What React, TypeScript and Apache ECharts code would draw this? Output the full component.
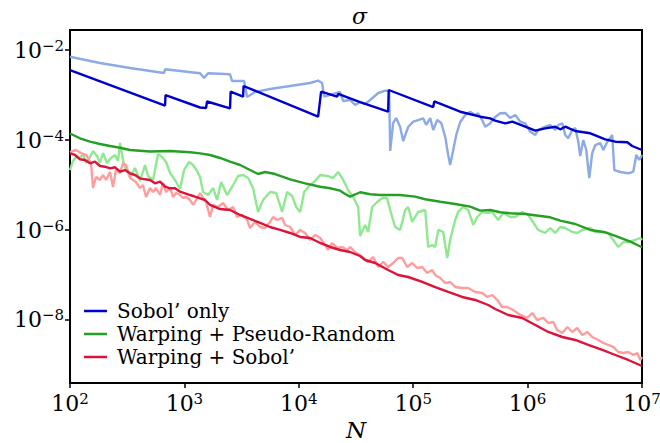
import React, { useEffect, useRef } from "react";
import * as echarts from "echarts";

// All values are [log10 N, log10 sigma].
const xTickExps = [2, 3, 4, 5, 6, 7];
const yTickExps = [-8, -6, -4, -2];

const seriesNames = ["Sobol’ only", "Warping + Pseudo-Random", "Warping + Sobol’"];

const sobolOnly = [
  [2.0, -2.446], [2.831, -3.237], [2.835, -3.003], [3.137, -3.281], [3.189, -3.292], [3.198, -3.147],
  [3.399, -3.299], [3.404, -2.929], [3.513, -3.04], [3.517, -2.802], [4.169, -3.482], [4.195, -2.929],
  [4.335, -3.04], [4.344, -2.98], [4.536, -3.159], [4.781, -3.375], [4.786, -2.891], [5.175, -3.27],
  [5.184, -3.147], [5.411, -3.375], [5.586, -3.486], [5.673, -3.522], [5.717, -3.575], [5.804, -3.633],
  [5.866, -3.597], [5.979, -3.709], [6.067, -3.798], [6.154, -3.745], [6.242, -3.709], [6.285, -3.767],
  [6.329, -3.709], [6.417, -3.805], [6.548, -3.856], [6.679, -3.99], [6.767, -4.043], [6.872, -4.056],
  [6.914, -4.139], [7.0, -4.228],
];

const sobolOnlyRaw = [
  [2.0, -2.149], [2.262, -2.29], [2.525, -2.401], [2.822, -2.512], [2.831, -2.43], [3.137, -2.519],
  [3.172, -2.624], [3.207, -2.519], [3.399, -2.541], [3.417, -2.691], [3.522, -2.691], [3.548, -3.047],
  [3.618, -2.936], [3.749, -2.869], [3.924, -2.802], [4.099, -2.735], [4.169, -2.68], [4.204, -2.735],
  [4.221, -3.04], [4.318, -2.965], [4.361, -2.936], [4.388, -3.136], [4.449, -3.114], [4.493, -3.225],
  [4.536, -3.159], [4.58, -3.203], [4.624, -3.114], [4.694, -2.958], [4.755, -2.907], [4.79, -2.913],
  [4.799, -4.25], [4.825, -3.626], [4.851, -3.515], [4.886, -3.716], [4.912, -4.027], [4.956, -3.716],
  [5.0, -3.597], [5.044, -3.56], [5.087, -3.522], [5.114, -3.671], [5.149, -3.515], [5.175, -3.782],
  [5.21, -3.56], [5.245, -3.626], [5.28, -3.938], [5.306, -4.339], [5.323, -4.562], [5.35, -4.228],
  [5.376, -3.894], [5.411, -3.604], [5.455, -3.448], [5.498, -3.375], [5.542, -3.448], [5.568, -3.41],
  [5.603, -3.56], [5.63, -3.709], [5.673, -3.633], [5.717, -3.493], [5.761, -3.41], [5.805, -3.404],
  [5.848, -3.515], [5.892, -3.448], [5.936, -3.597], [5.979, -3.633], [6.023, -3.82], [6.067, -3.894],
  [6.093, -3.782], [6.154, -3.709], [6.198, -3.671], [6.242, -3.782], [6.268, -3.671], [6.303, -3.633],
  [6.329, -3.894], [6.355, -3.967], [6.39, -3.782], [6.417, -3.738], [6.443, -4.043], [6.46, -4.362],
  [6.487, -4.005], [6.513, -4.228], [6.539, -4.852], [6.565, -4.295], [6.592, -4.117], [6.635, -4.072],
  [6.662, -4.228], [6.697, -4.043], [6.74, -3.894], [6.758, -4.674], [6.81, -4.718], [6.88, -4.747],
  [6.924, -4.711], [6.95, -4.339], [6.976, -4.451], [7.0, -4.339],
];

const warpPseudo = [
  [2.0, -3.86], [2.087, -3.967], [2.175, -4.043], [2.262, -4.094], [2.35, -4.139], [2.437, -4.177],
  [2.525, -4.228], [2.7, -4.261], [2.875, -4.25], [3.05, -4.279], [3.137, -4.302], [3.224, -4.339],
  [3.312, -4.406], [3.399, -4.489], [3.487, -4.562], [3.574, -4.674], [3.644, -4.763], [3.705, -4.718],
  [3.793, -4.763], [3.924, -4.881], [4.055, -4.97], [4.187, -5.046], [4.274, -5.081], [4.361, -5.135],
  [4.405, -5.208], [4.449, -5.268], [4.493, -5.219], [4.536, -5.17], [4.624, -5.215], [4.711, -5.231],
  [4.886, -5.231], [5.017, -5.268], [5.105, -5.326], [5.236, -5.38], [5.367, -5.431], [5.498, -5.491],
  [5.586, -5.58], [5.673, -5.565], [5.761, -5.616], [5.848, -5.638], [5.979, -5.654], [6.111, -5.698],
  [6.198, -5.727], [6.285, -5.803], [6.417, -5.877], [6.548, -6.01], [6.679, -6.062], [6.767, -6.144],
  [6.898, -6.271], [7.0, -6.396],
];

const warpPseudoRaw = [
  [2.0, -4.674], [2.026, -4.473], [2.061, -4.362], [2.087, -4.406], [2.114, -4.317], [2.14, -4.518],
  [2.175, -4.384], [2.201, -4.25], [2.236, -4.362], [2.262, -4.518], [2.289, -4.295], [2.324, -4.518],
  [2.35, -4.429], [2.394, -4.339], [2.42, -4.473], [2.437, -4.072], [2.472, -4.562], [2.525, -4.83],
  [2.568, -4.629], [2.612, -4.919], [2.656, -4.562], [2.682, -4.807], [2.726, -4.896], [2.77, -4.317],
  [2.805, -4.384], [2.84, -4.495], [2.875, -4.74], [2.918, -4.896], [2.962, -5.097], [2.997, -4.674],
  [3.041, -4.495], [3.076, -4.562], [3.111, -4.696], [3.137, -4.83], [3.163, -5.164], [3.207, -5.231],
  [3.251, -5.075], [3.286, -5.342], [3.321, -4.941], [3.373, -5.231], [3.426, -5.008], [3.469, -4.807],
  [3.513, -4.785], [3.557, -4.852], [3.6, -5.075], [3.644, -5.609], [3.688, -5.342], [3.749, -5.164],
  [3.802, -5.186], [3.854, -5.609], [3.898, -5.164], [3.942, -5.253], [3.977, -5.498], [4.012, -5.609],
  [4.047, -5.164], [4.09, -5.03], [4.134, -4.941], [4.187, -4.785], [4.248, -4.807], [4.3, -4.852],
  [4.344, -4.718], [4.388, -4.896], [4.431, -5.119], [4.475, -5.275], [4.519, -5.498], [4.536, -6.144],
  [4.58, -5.899], [4.606, -6.055], [4.641, -5.498], [4.685, -5.387], [4.729, -5.297], [4.772, -5.297],
  [4.799, -5.565], [4.842, -5.944], [4.886, -6.01], [4.93, -5.565], [4.956, -5.498], [4.991, -5.832],
  [5.044, -5.609], [5.105, -5.565], [5.131, -6.389], [5.166, -6.345], [5.192, -6.389], [5.219, -6.01],
  [5.262, -6.055], [5.297, -6.634], [5.323, -6.233], [5.367, -5.788], [5.393, -5.609], [5.437, -5.498],
  [5.481, -5.565], [5.525, -5.899], [5.56, -5.721], [5.603, -5.609], [5.647, -5.632], [5.691, -5.609],
  [5.743, -5.788], [5.787, -5.632], [5.848, -5.721], [5.892, -5.721], [5.953, -5.609], [6.006, -5.676],
  [6.093, -6.01], [6.154, -6.077], [6.198, -5.966], [6.242, -6.077], [6.285, -5.944], [6.329, -5.966],
  [6.39, -6.055], [6.434, -6.077], [6.478, -6.01], [6.548, -5.966], [6.592, -6.055], [6.653, -6.055],
  [6.705, -6.077], [6.749, -6.233], [6.793, -6.389], [6.837, -6.278], [6.88, -6.278], [6.941, -6.233],
  [6.985, -6.189], [7.0, -6.233],
];

const warpSobol = [
  [2.0, -4.302], [2.044, -4.339], [2.087, -4.435], [2.131, -4.451], [2.175, -4.524], [2.219, -4.489],
  [2.262, -4.584], [2.306, -4.6], [2.35, -4.636], [2.394, -4.613], [2.437, -4.711], [2.481, -4.674],
  [2.525, -4.747], [2.568, -4.785], [2.612, -4.859], [2.656, -4.881], [2.7, -4.896], [2.743, -4.97],
  [2.787, -4.934], [2.831, -5.046], [2.875, -5.081], [2.918, -5.081], [2.962, -5.157], [3.006, -5.193],
  [3.05, -5.231], [3.093, -5.268], [3.137, -5.304], [3.181, -5.342], [3.224, -5.453], [3.312, -5.543],
  [3.399, -5.565], [3.487, -5.676], [3.574, -5.765], [3.662, -5.854], [3.749, -5.944], [3.837, -6.01],
  [3.924, -6.077], [4.012, -6.166], [4.099, -6.189], [4.187, -6.3], [4.274, -6.389], [4.361, -6.456],
  [4.449, -6.501], [4.536, -6.59], [4.58, -6.679], [4.668, -6.746], [4.781, -6.902], [4.869, -7.013],
  [4.956, -7.058], [5.079, -7.169], [5.192, -7.281], [5.306, -7.392], [5.428, -7.503], [5.542, -7.57],
  [5.656, -7.682], [5.717, -7.771], [5.831, -7.905], [5.953, -7.971], [6.067, -8.127], [6.181, -8.283],
  [6.303, -8.395], [6.417, -8.461], [6.53, -8.573], [6.653, -8.684], [6.767, -8.796], [6.88, -8.907],
  [7.0, -9.041],
];

const warpSobolRaw = [
  [2.0, -4.273], [2.052, -4.228], [2.096, -4.295], [2.14, -4.339], [2.184, -4.518], [2.201, -5.075],
  [2.227, -4.83], [2.262, -4.896], [2.289, -4.785], [2.315, -4.896], [2.35, -4.718], [2.376, -5.052],
  [2.402, -4.674], [2.437, -4.74], [2.464, -4.518], [2.49, -4.562], [2.525, -4.852], [2.551, -4.896],
  [2.577, -4.941], [2.612, -5.075], [2.638, -5.008], [2.665, -5.275], [2.7, -5.075], [2.726, -5.164],
  [2.752, -5.075], [2.787, -5.231], [2.813, -4.963], [2.84, -5.164], [2.875, -5.075], [2.901, -5.275],
  [2.927, -5.186], [2.962, -5.231], [2.988, -5.297], [3.015, -5.275], [3.05, -5.342], [3.076, -5.453],
  [3.102, -5.342], [3.137, -5.186], [3.163, -5.297], [3.189, -5.387], [3.224, -5.721], [3.251, -5.453],
  [3.294, -5.498], [3.338, -5.409], [3.382, -5.565], [3.426, -5.498], [3.461, -5.721], [3.504, -5.676],
  [3.548, -5.788], [3.574, -5.966], [3.618, -5.832], [3.662, -5.944], [3.705, -5.966], [3.749, -5.832],
  [3.775, -5.721], [3.81, -5.788], [3.854, -5.743], [3.88, -5.899], [3.924, -5.944], [3.968, -6.122],
  [4.012, -6.01], [4.055, -6.077], [4.099, -6.233], [4.143, -6.122], [4.187, -6.189], [4.23, -6.345],
  [4.256, -6.456], [4.291, -6.3], [4.335, -6.411], [4.379, -6.389], [4.423, -6.456], [4.449, -6.389],
  [4.493, -6.501], [4.554, -6.612], [4.606, -6.723], [4.65, -6.612], [4.694, -6.835], [4.737, -6.723],
  [4.781, -6.835], [4.825, -6.746], [4.869, -6.634], [4.904, -6.634], [4.947, -6.835], [4.991, -6.746],
  [5.035, -6.857], [5.079, -6.835], [5.122, -6.968], [5.166, -6.902], [5.192, -7.013], [5.236, -7.08],
  [5.28, -7.191], [5.323, -7.169], [5.367, -7.28], [5.428, -7.303], [5.481, -7.303], [5.542, -7.392],
  [5.603, -7.414], [5.647, -7.503], [5.691, -7.459], [5.735, -7.57], [5.778, -7.726], [5.822, -7.726],
  [5.874, -7.793], [5.936, -7.904], [5.997, -7.971], [6.041, -7.86], [6.084, -8.016], [6.137, -7.971],
  [6.181, -8.083], [6.224, -8.06], [6.259, -8.239], [6.303, -8.305], [6.347, -8.172], [6.39, -8.283],
  [6.434, -8.194], [6.478, -8.35], [6.522, -8.283], [6.565, -8.395], [6.618, -8.461], [6.662, -8.528],
  [6.705, -8.573], [6.749, -8.617], [6.793, -8.729], [6.837, -8.751], [6.88, -8.729], [6.924, -8.796],
  [6.959, -8.751], [6.985, -8.907], [7.0, -8.84],
];

const FONT = "DejaVu Serif";

export default function App() {
  const ref = useRef<HTMLDivElement>(null);

  useEffect(() => {
    if (!ref.current) return;
    const chart = echarts.init(ref.current, null, { renderer: "svg" });

    const rich = {
      b: { fontFamily: FONT, fontSize: 22, lineHeight: 23, color: "#000", verticalAlign: "bottom" },
      s: { fontFamily: FONT, fontSize: 15, lineHeight: 15, color: "#000", verticalAlign: "top" },
    };
    const expLabel = (v: number) => {
      const e = Math.round(v);
      const txt = e < 0 ? "\u2212" + String(-e) : String(e);
      return "{b|10}{s|" + txt + "}";
    };

    const line = (name: string, data: number[][], color: string, z: number) => ({
      name,
      type: "line",
      data,
      showSymbol: false,
      symbol: "none",
      z,
      lineStyle: { color, width: 2.4 },
      itemStyle: { color },
      emphasis: { disabled: true },
    });

    chart.setOption({
      animation: false,
      backgroundColor: "#ffffff",
      title: {
        text: "σ",
        left: 347,
        top: 0,
        textStyle: { fontFamily: FONT, fontStyle: "italic", fontWeight: "normal", fontSize: 22, color: "#000" },
      },
      legend: {
        data: seriesNames,
        orient: "vertical",
        left: 84,
        top: 301,
        padding: 0,
        itemGap: 3,
        itemWidth: 23,
        itemHeight: 2.5,
        icon: "rect",
        textStyle: { fontFamily: FONT, fontSize: 20, lineHeight: 20, color: "#000", padding: [0, 0, 0, 5] },
      },
      grid: {
        left: 70,
        right: 18,
        top: 30,
        bottom: 60,
        outerBoundsMode: "none",
        containLabel: false,
        show: true,
        borderColor: "#000",
        borderWidth: 2,
        backgroundColor: "transparent",
      },
      xAxis: {
        type: "value",
        min: 2,
        max: 7,
        interval: 1,
        name: "N",
        nameLocation: "middle",
        nameGap: 34,
        nameTextStyle: { fontFamily: FONT, fontStyle: "italic", fontSize: 23, lineHeight: 22, color: "#000" },
        axisLine: { show: true, lineStyle: { color: "#000", width: 2 } },
        axisTick: { show: true, inside: false, length: 5, lineStyle: { color: "#000", width: 1.5 }, customValues: xTickExps },
        axisLabel: { customValues: xTickExps, formatter: expLabel, rich, margin: 8 },
        splitLine: { show: false },
      },
      yAxis: {
        type: "value",
        min: -9.42,
        max: -1.554,
        axisLine: { show: true, lineStyle: { color: "#000", width: 2 } },
        axisTick: { show: true, inside: false, length: 5, lineStyle: { color: "#000", width: 1.5 }, customValues: yTickExps },
        axisLabel: { customValues: yTickExps, formatter: expLabel, rich, margin: 6 },
        splitLine: { show: false },
      },
      series: [
        line("Sobol’ only (raw)", sobolOnlyRaw, "#8caae6", 1),
        line("Warping + Pseudo-Random (raw)", warpPseudoRaw, "#90e890", 1),
        line("Warping + Sobol’ (raw)", warpSobolRaw, "#ff9c9c", 1),
        line(seriesNames[0], sobolOnly, "#0000cc", 2),
        line(seriesNames[1], warpPseudo, "#25a025", 2),
        line(seriesNames[2], warpSobol, "#dc143c", 2),
      ],
    });

    return () => chart.dispose();
  }, []);

  return <div ref={ref} style={{ position: "fixed", left: 0, top: 0, width: 660, height: 443 }} />;
}
